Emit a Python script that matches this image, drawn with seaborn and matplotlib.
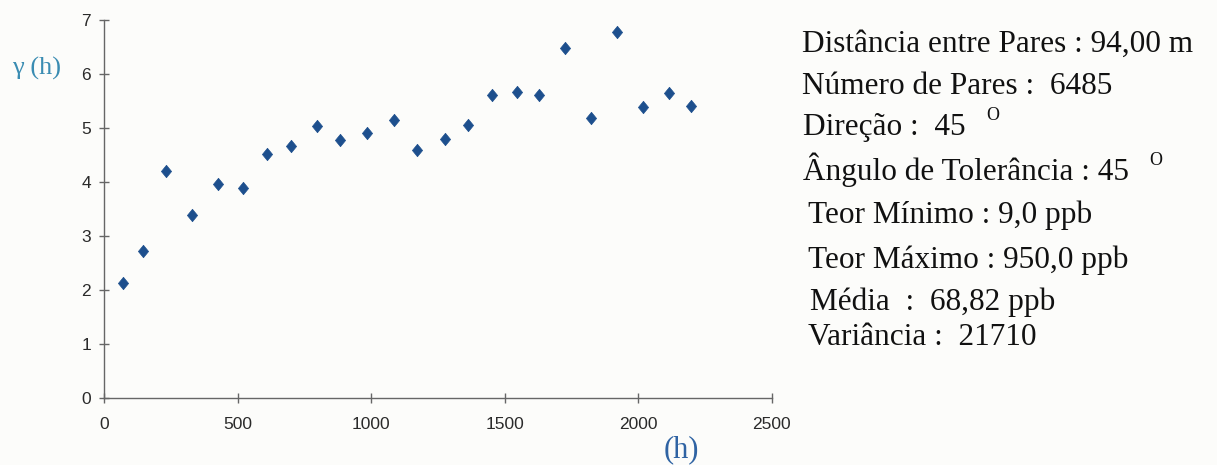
import matplotlib
matplotlib.use("Agg")
import matplotlib.pyplot as plt
from matplotlib.path import Path
import seaborn as sns
import pandas as pd

# Data
lag_h = [70, 146, 230, 330, 427, 519, 609, 699, 797, 882, 983, 1084,
         1173, 1275, 1363, 1451, 1545, 1627, 1724, 1822, 1920, 2018, 2115, 2197]
gamma_h = [2.13, 2.73, 4.21, 3.39, 3.96, 3.90, 4.52, 4.66, 5.03, 4.78, 4.91, 5.15,
           4.59, 4.79, 5.06, 5.62, 5.67, 5.62, 6.49, 5.18, 6.77, 5.39, 5.65, 5.40]
x_ticks = [0, 500, 1000, 1500, 2000, 2500]
y_ticks = [0, 1, 2, 3, 4, 5, 6, 7]
info_lines = [
    "Distância entre Pares : 94,00 m",
    "Número de Pares :  6485",
    "Direção :  45",
    "Ângulo de Tolerância : 45",
    "Teor Mínimo : 9,0 ppb",
    "Teor Máximo : 950,0 ppb",
    "Média  :  68,82 ppb",
    "Variância :  21710",
]
degree_after = [False, False, True, True, False, False, False, False]

df = pd.DataFrame({"h": lag_h, "gamma": gamma_h})

sns.set_style("ticks")
plt.rcParams["font.family"] = ["Liberation Sans", "DejaVu Sans"]
serif = ["Liberation Serif", "DejaVu Serif"]

W, H = 1217, 465
bg = "#fcfcfa"
fig = plt.figure(figsize=(W / 100, H / 100), dpi=100, facecolor=bg)
ax = fig.add_axes([0.0857, 0.1434, 0.5484, 0.8136])
ax.set_facecolor(bg)

diamond = Path([(0, 1), (0.82, 0), (0, -1), (-0.82, 0), (0, 1)],
               [Path.MOVETO, Path.LINETO, Path.LINETO, Path.LINETO, Path.CLOSEPOLY])
sns.scatterplot(data=df, x="h", y="gamma", ax=ax, marker=diamond, s=80,
                color="#1d4f8d", edgecolor="#1d4f8d", linewidth=0.5, legend=False)

ax.set_xlim(0, 2500)
ax.set_ylim(0, 7)
ax.set_xticks(x_ticks)
ax.set_yticks(y_ticks)
ax.set_xlabel("")
ax.set_ylabel("")
sns.despine(ax=ax)
for s in ["left", "bottom"]:
    ax.spines[s].set_color("#666666")
    ax.spines[s].set_linewidth(1.0)
ax.tick_params(axis="both", direction="inout", length=7, width=1.0,
               color="#666666", labelcolor="#2a2a2a", labelsize=12.5)
ax.tick_params(axis="x", pad=10)
ax.tick_params(axis="y", pad=6)

fig.text(37 / W, 1 - 68 / H, "γ (h)", fontsize=19, color="#3a8cb2",
         family=serif, ha="center", va="center")
fig.text(681 / W, 1 - 450 / H, "(h)", fontsize=22, color="#2f63a3",
         family=serif, ha="center", va="center")

baselines = [51.7, 94, 135, 180, 223, 268, 310, 345]
lefts = [801.7, 801.7, 803, 803, 808, 808, 810, 808]
fig.canvas.draw()
renderer = fig.canvas.get_renderer()
for txt, yb, xl, deg in zip(info_lines, baselines, lefts, degree_after):
    t = fig.text(xl / W, 1 - yb / H, txt, fontsize=22.5, color="#111111",
                 family=serif, ha="left", va="baseline")
    if deg:
        bb = t.get_window_extent(renderer=renderer)
        fig.text((bb.x1 + 27) / W, 1 - (yb - 20) / H, "O", fontsize=13,
                 color="#111111", family=serif, ha="center", va="center")

fig.savefig("out.png", dpi=100, facecolor=bg)
